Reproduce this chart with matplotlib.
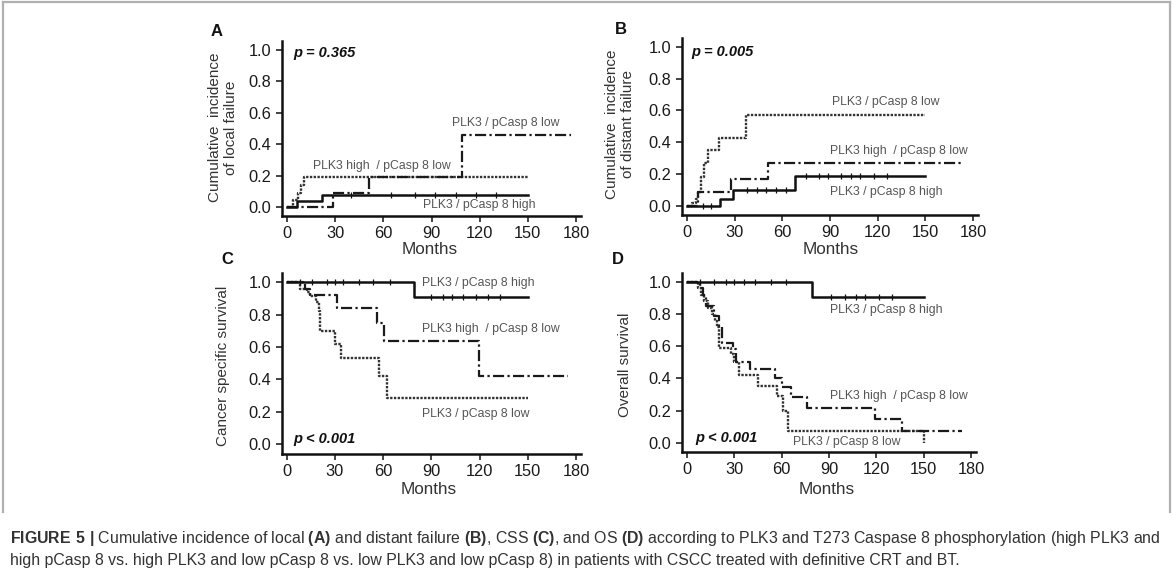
import numpy as np
import matplotlib
matplotlib.use('Agg')
import matplotlib.pyplot as plt
from matplotlib import font_manager

# ---- data (months, proportion) ----
# A: cumulative incidence of local failure
A_high_t = [0, 6, 21.5, 150]
A_high_v = [0, 0.038, 0.077, 0.077]
A_lowlow_t = [0, 4, 7, 9, 10.5, 150]
A_lowlow_v = [0, 0.045, 0.09, 0.14, 0.19, 0.19]
A_highlow_t = [0, 28.5, 51, 109, 177]
A_highlow_v = [0, 0.09, 0.19, 0.46, 0.46]
A_high_cens = [40, 65, 80, 92, 105, 118, 130]

# B: cumulative incidence of distant failure
B_high_t = [0, 21, 29, 68, 150]
B_high_v = [0, 0.044, 0.10, 0.188, 0.188]
B_lowlow_t = [0, 3, 5.5, 7, 9, 11, 13, 20, 37, 150]
B_lowlow_v = [0, 0.02, 0.045, 0.09, 0.18, 0.27, 0.35, 0.43, 0.57, 0.57]
B_highlow_t = [0, 7, 28, 51, 174]
B_highlow_v = [0, 0.086, 0.167, 0.27, 0.27]
B_high_cens = [10, 15, 38, 44, 50, 56, 62, 75, 83, 89, 97, 103, 109, 118, 126]

# C: cancer specific survival
C_high_t = [0, 79, 150]
C_high_v = [1.0, 0.907, 0.907]
C_lowlow_t = [0, 8.5, 12.5, 14.5, 18.5, 20, 20.7, 30, 33.5, 57.5, 62.5, 150]
C_lowlow_v = [1.0, 0.96, 0.94, 0.915, 0.88, 0.825, 0.70, 0.62, 0.53, 0.423, 0.284, 0.284]
C_highlow_t = [0, 11.4, 14.5, 31, 56, 60.5, 119.8, 175]
C_highlow_v = [1.0, 0.96, 0.92, 0.84, 0.747, 0.64, 0.424, 0.424]
C_high_cens = [8, 16, 25, 30, 35, 45, 54, 64, 90, 97, 103, 110, 118, 125, 133]

# D: overall survival
D_high_t = [0, 79, 150]
D_high_v = [1.0, 0.909, 0.909]
D_lowlow_t = [0, 7, 9, 11, 13, 16, 18, 19, 20, 28, 30, 33, 45, 57, 61, 64, 150, 150.01]
D_lowlow_v = [1.0, 0.96, 0.92, 0.88, 0.84, 0.80, 0.76, 0.72, 0.59, 0.55, 0.50, 0.42,
              0.355, 0.29, 0.20, 0.07, 0.0, 0.0]
D_highlow_t = [0, 8, 10, 12, 17, 20, 22, 29, 31, 40, 55.5, 60.5, 66, 76, 119, 136, 174]
D_highlow_v = [1.0, 0.96, 0.92, 0.85, 0.79, 0.72, 0.62, 0.58, 0.50, 0.457, 0.40, 0.348,
               0.287, 0.218, 0.145, 0.073, 0.073]
D_high_cens = [8, 17, 25, 30, 36, 43, 53, 63, 91, 100, 107, 113, 122, 130]

X_TICKS = [0, 30, 60, 90, 120, 150, 180]
Y_TICKS = [0.0, 0.2, 0.4, 0.6, 0.8, 1.0]

CAPTION_1 = (r"$\mathbf{FIGURE\ 5\ |}$ Cumulative incidence of local $\mathbf{(A)}$ and distant "
             r"failure $\mathbf{(B)}$, CSS $\mathbf{(C)}$, and OS $\mathbf{(D)}$ according to PLK3 "
             r"and T273 Caspase 8 phosphorylation (high PLK3 and")
CAPTION_2 = ("high pCasp 8 vs. high PLK3 and low pCasp 8 vs. low PLK3 and low pCasp 8) "
             "in patients with CSCC treated with definitive CRT and BT.")

W, H = 1173, 577
XLIM = (-3.2, 183)
YLIM = (-0.057, 1.055)


def have_font(name):
    try:
        font_manager.findfont(font_manager.FontProperties(family=name),
                              fallback_to_default=False)
        return True
    except ValueError:
        return False


CAP_FONT = 'Liberation Sans Narrow' if have_font('Liberation Sans Narrow') else 'Liberation Sans'

plt.rcParams['font.family'] = ['Liberation Sans', 'DejaVu Sans']
plt.rcParams['mathtext.fontset'] = 'custom'
plt.rcParams['mathtext.rm'] = CAP_FONT
plt.rcParams['mathtext.bf'] = CAP_FONT + ':bold'

SOLID = dict(color='#111111', lw=1.8, ls='-')
DOTTED = dict(color='#333333', lw=1.7, ls=(0, (1, 0.6)))
DASHDOT = dict(color='#1a1a1a', lw=1.6, ls=(0, (5, 1.5, 1, 1.5)))
LBL = dict(fontsize=8.8, color='#555555', va='center', ha='left')
PVAL = dict(fontsize=10.5, fontweight='bold', fontstyle='italic', va='center',
            ha='left', color='#111111')


def step_at(t, v, times):
    idx = np.searchsorted(np.asarray(t), np.asarray(times), side='right') - 1
    return np.asarray(v)[idx]


def px(x, y):
    return x / W, 1 - y / H


def add_panel(fig, x0, x180, y0, y1):
    """axes placed so that month 0/180 and value 0/1 land on given pixels"""
    sx = (x180 - x0) / 180.0
    sy = (y0 - y1)
    left = x0 + XLIM[0] * sx
    right = x0 + XLIM[1] * sx
    bottom = y0 - YLIM[0] * sy
    top = y0 - YLIM[1] * sy
    ax = fig.add_axes([left / W, 1 - bottom / H, (right - left) / W, (bottom - top) / H])
    ax.set_xlim(XLIM)
    ax.set_ylim(YLIM)
    for s in ['top', 'right']:
        ax.spines[s].set_visible(False)
    for s in ['left', 'bottom']:
        ax.spines[s].set_linewidth(1.8)
        ax.spines[s].set_color('#111111')
    ax.set_xticks(X_TICKS)
    ax.set_yticks(Y_TICKS)
    ax.set_yticklabels(['{0:.1f}'.format(v) for v in Y_TICKS])
    ax.tick_params(direction='out', length=4.5, width=1.1, pad=3,
                   labelsize=11.8, labelcolor='#1a1a1a', color='#111111')
    ax.patch.set_alpha(0)
    return ax


def draw_curves(ax, curves, cens_t, cens_src):
    for t, v, style in curves:
        ax.step(t, v, where='post', **style)
    ct, cv = cens_src
    ax.plot(cens_t, step_at(ct, cv, cens_t), ls='none', marker='|',
            ms=4, mew=0.9, color='#111111')


fig = plt.figure(figsize=(W / 100, H / 100), dpi=100)

# figure frame
frame = dict(color='#b0b0b0', lw=1.6, transform=fig.transFigure)
fig.add_artist(plt.Line2D([px(3, 0)[0], px(1170, 0)[0]], [px(0, 2)[1]] * 2, **frame))
fig.add_artist(plt.Line2D([px(3, 0)[0]] * 2, [px(0, 2)[1], px(0, 512)[1]], **frame))
fig.add_artist(plt.Line2D([px(1170, 0)[0]] * 2, [px(0, 2)[1], px(0, 512)[1]], **frame))

# ---- A ----
ax = add_panel(fig, 287, 576, 207, 50)
draw_curves(ax, [(A_lowlow_t, A_lowlow_v, DOTTED),
                 (A_highlow_t, A_highlow_v, DASHDOT),
                 (A_high_t, A_high_v, SOLID)], A_high_cens, (A_high_t, A_high_v))
ax.text(103, 0.535, 'PLK3 / pCasp 8 low', **LBL)
ax.text(16, 0.263, 'PLK3 high  / pCasp 8 low', **LBL)
ax.text(85, 0.013, 'PLK3 / pCasp 8 high', **LBL)
ax.text(4, 0.98, 'p = 0.365', **PVAL)

# ---- B ----
ax = add_panel(fig, 687, 973, 206, 46.7)
draw_curves(ax, [(B_lowlow_t, B_lowlow_v, DOTTED),
                 (B_highlow_t, B_highlow_v, DASHDOT),
                 (B_high_t, B_high_v, SOLID)], B_high_cens, (B_high_t, B_high_v))
ax.text(91, 0.655, 'PLK3 / pCasp 8 low', **LBL)
ax.text(90, 0.345, 'PLK3 high  / pCasp 8 low', **LBL)
ax.text(90, 0.09, 'PLK3 / pCasp 8 high', **LBL)
ax.text(3, 0.965, 'p = 0.005', **PVAL)

# ---- C ----
ax = add_panel(fig, 286.7, 576, 444.3, 282.3)
draw_curves(ax, [(C_lowlow_t, C_lowlow_v, DOTTED),
                 (C_highlow_t, C_highlow_v, DASHDOT),
                 (C_high_t, C_high_v, SOLID)], C_high_cens, (C_high_t, C_high_v))
ax.text(84, 0.994, 'PLK3 / pCasp 8 high', **LBL)
ax.text(84, 0.71, 'PLK3 high  / pCasp 8 low', **LBL)
ax.text(84, 0.187, 'PLK3 / pCasp 8 low', **LBL)
ax.text(4, 0.03, 'p < 0.001', **PVAL)

# ---- D ----
ax = add_panel(fig, 687, 971, 442.7, 282)
draw_curves(ax, [(D_lowlow_t, D_lowlow_v, DOTTED),
                 (D_highlow_t, D_highlow_v, DASHDOT),
                 (D_high_t, D_high_v, SOLID)], D_high_cens, (D_high_t, D_high_v))
ax.text(90.6, 0.826, 'PLK3 / pCasp 8 high', **LBL)
ax.text(90.6, 0.29, 'PLK3 high  / pCasp 8 low', **LBL)
ax.text(67.4, 0.006, 'PLK3 / pCasp 8 low', **LBL)
ax.text(5, 0.03, 'p < 0.001', **PVAL)

# axis titles, panel letters
for (x, y) in [(430, 250), (831, 250), (429, 490), (827, 490)]:
    fig.text(*px(x, y), 'Months', fontsize=12.3, color='#333333', ha='center', va='center')
fig.text(*px(223, 127.5), 'Cumulative  incidence\nof local failure', rotation=90,
         fontsize=11, color='#333333', ha='center', va='center', linespacing=1.1)
fig.text(*px(620, 124), 'Cumulative  incidence\nof distant failure', rotation=90,
         fontsize=11, color='#333333', ha='center', va='center', linespacing=1.1)
fig.text(*px(223, 366), 'Cancer specific survival', rotation=90,
         fontsize=11, color='#333333', ha='center', va='center')
fig.text(*px(625, 365), 'Overall survival', rotation=90,
         fontsize=11, color='#333333', ha='center', va='center')
for (x, y, s) in [(217, 31, 'A'), (621, 30, 'B'), (227, 260, 'C'), (618, 259, 'D')]:
    fig.text(*px(x, y), s, fontsize=12, fontweight='bold', color='#111111',
             ha='center', va='center')

# caption, size fitted so the first line spans the same width as the original
cap1 = fig.text(*px(10, 538), CAPTION_1, fontsize=10, family=CAP_FONT,
                color='#333333', ha='left', va='center')
cap2 = fig.text(*px(10, 561), CAPTION_2, fontsize=10, family=CAP_FONT,
                color='#333333', ha='left', va='center')
r = fig.canvas.get_renderer()
w1 = cap1.get_window_extent(renderer=r).width
size = 10 * 1147.0 / w1
cap1.set_fontsize(size)
cap2.set_fontsize(size)

fig.savefig('out.png', dpi=100)
